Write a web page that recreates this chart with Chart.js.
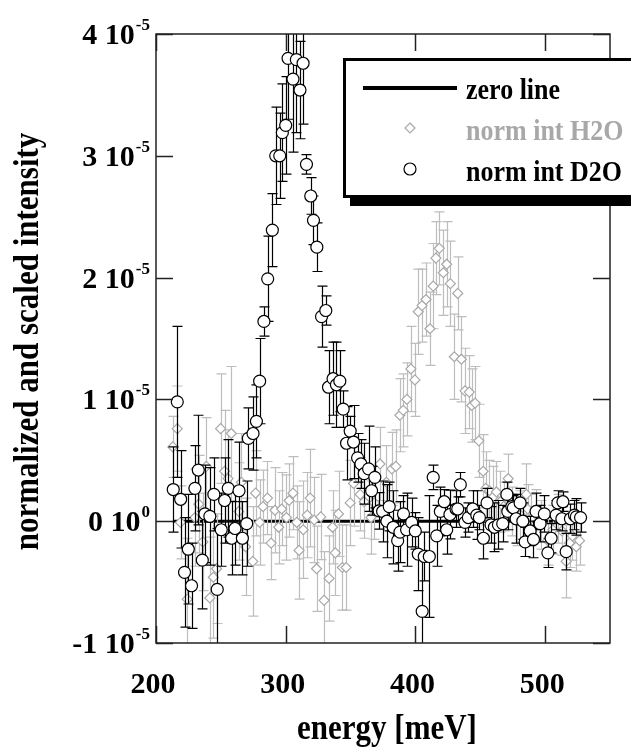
<!DOCTYPE html>
<html><head><meta charset="utf-8">
<script src="https://cdn.jsdelivr.net/npm/chart.js@4/dist/chart.umd.min.js"></script>
<style>html,body{margin:0;padding:0;background:#fff;}#wrap{width:631px;height:751px;}</style>
</head><body><div id="wrap"><canvas id="c" width="631" height="751"></canvas></div>
<script>
// values in units of 1e-5
const UNIT = 1e-5;
const d2oX = [213.3,216.4,219.0,222.0,224.9,227.4,230.0,232.6,235.7,237.7,241.5,244.6,247.2,250.3,252.9,255.7,258.3,260.9,264.0,266.6,269.9,271.2,274.8,277.4,279.9,283.2,286.1,289.7,292.3,295.4,297.4,300.0,301.8,305.6,308.2,311.0,313.4,316.0,319.3,321.4,324.0,327.6,330.9,333.0,336.5,339.1,341.7,344.3,346.9,349.7,352.3,355.4,358.0,360.5,363.9,366.2,368.7,372.0,374.7,378.0,379.8,382.9,386.3,388.1,390.8,393.2,397.1,399.9,402.2,405.2,406.8,410.7,413.7,416.4,419.2,422.2,424.1,426.6,431.3,432.6,434.6,438.2,440.8,444.2,447.3,449.3,452.4,455.2,458.3,460.9,464.0,467.3,470.5,471.2,474.3,475.5,477.6,480.7,482.8,484.6,488.4,491.0,493.0,496.1,499.4,502.1,504.6,508.5,509.8,512.9,513.7,516.2,519.5,522.6,524.0,527.3];
const d2oY = [0.26,0.98,0.18,-0.42,-0.23,-0.53,0.27,0.42,-0.32,0.06,0.04,0.22,-0.56,-0.07,0.17,0.27,-0.14,-0.06,0.25,-0.14,-0.02,0.68,0.72,0.82,1.15,1.64,1.99,2.39,3.00,3.00,3.19,3.25,3.80,3.63,3.79,3.54,3.76,2.93,2.67,2.47,2.25,1.68,1.73,1.10,1.17,1.12,1.15,0.92,0.64,0.74,0.65,0.52,0.47,0.39,0.43,0.25,0.36,0.085,0.08,0.00,0.12,-0.05,-0.16,-0.09,0.06,-0.07,-0.01,-0.08,-0.27,-0.74,-0.29,-0.29,0.36,-0.12,0.08,0.16,-0.07,0.055,0.10,0.10,0.30,-0.01,0.03,0.10,0.05,0.03,-0.14,0.15,-0.03,-0.05,-0.03,-0.02,0.22,0.08,0.12,0.11,0.02,0.15,0.00,-0.17,-0.08,-0.15,0.08,-0.02,0.06,-0.26,-0.14,0.05,0.15,0.02,0.16,-0.25,0.02,0.05,0.035,0.03];
const d2oErr = [0.35,0.62,0.40,0.45,0.45,0.35,0.35,0.45,0.40,0.40,0.40,0.30,0.50,0.30,0.35,0.40,0.30,0.30,0.40,0.30,0.35,0.25,0.30,0.30,0.35,0.12,0.35,0.30,0.40,0.35,0.40,0.40,0.50,0.60,0.60,0.40,0.50,0.08,0.15,0.20,0.20,0.25,0.12,0.30,0.30,0.35,0.25,0.15,0.30,0.12,0.30,0.20,0.20,0.25,0.35,0.20,0.25,0.15,0.25,0.30,0.20,0.30,0.25,0.25,0.15,0.30,0.20,0.15,0.30,0.50,0.20,0.50,0.10,0.25,0.20,0.10,0.20,0.20,0.15,0.10,0.10,0.12,0.12,0.15,0.20,0.10,0.17,0.12,0.15,0.20,0.20,0.15,0.10,0.15,0.10,0.10,0.20,0.12,0.15,0.12,0.12,0.15,0.15,0.15,0.15,0.12,0.12,0.12,0.10,0.10,0.08,0.15,0.12,0.12,0.15,0.12];

const h2oX = [213.0,216.4,218.9,224.1,230.0,233.0,236.1,238.8,241.5,244.2,246.7,249.8,252.9,255.5,258.1,263.8,265.8,269.1,274.6,276.8,279.9,282.5,285.9,288.7,291.7,294.6,296.9,300.6,302.6,305.6,308.5,310.3,313.5,316.5,318.8,321.9,323.8,327.0,329.6,333.4,336.1,338.2,340.7,343.7,346.6,349.7,352.3,357.4,360.5,365.7,368.3,372.7,377.6,381.8,384.9,388.0,390.6,393.4,396.5,399.6,402.2,405.1,408.1,411.2,413.7,415.8,418.4,421.5,424.1,426.9,430.0,432.6,435.4,438.2,441.5,443.4,446.0,448.9,452.2,454.2,457.0,460.0,462.4,465.5,468.0,471.5,474.5,478.0,481.0,485.5,486.6,489.0,493.0,497.0,502.1,506.0,510.0,513.0,516.2,518.8,521.0,524.0,526.5];
const h2oY = [0.61,0.76,-0.01,-0.64,0.03,0.14,-0.17,0.45,-0.63,-0.46,-0.39,0.76,0.41,0.35,0.72,0.08,0.32,-0.21,-0.33,0.23,-0.01,0.12,0.19,-0.18,0.09,-0.05,0.10,0.03,0.17,0.23,-0.01,-0.24,-0.07,0.05,0.19,0.01,-0.39,0.035,-0.65,-0.47,-0.05,-0.26,0.06,-0.38,-0.38,0.15,0.31,0.22,0.16,0.03,0.15,0.47,0.32,0.43,0.45,0.87,0.91,1.00,1.25,1.16,1.72,1.77,1.82,1.58,1.93,2.16,2.24,2.04,2.11,1.95,1.35,1.87,1.33,1.07,1.06,0.95,0.97,0.66,0.41,0.27,0.25,0.20,0.24,0.16,0.12,0.35,0.08,0.00,0.05,0.22,0.10,0.02,0.06,-0.03,-0.16,-0.07,0.02,-0.08,-0.33,-0.18,-0.12,-0.21,-0.16];
const h2oErr = [0.25,0.35,0.30,0.50,0.40,0.40,0.40,0.40,0.50,0.50,0.45,0.45,0.50,0.40,0.55,0.40,0.40,0.40,0.45,0.35,0.35,0.30,0.30,0.30,0.35,0.30,0.30,0.35,0.30,0.30,0.30,0.40,0.40,0.35,0.40,0.35,0.35,0.35,0.40,0.35,0.30,0.35,0.35,0.35,0.35,0.35,0.35,0.30,0.30,0.30,0.30,0.30,0.30,0.30,0.30,0.30,0.30,0.30,0.35,0.30,0.35,0.30,0.30,0.30,0.35,0.30,0.30,0.35,0.35,0.35,0.35,0.30,0.35,0.35,0.30,0.30,0.30,0.30,0.30,0.30,0.25,0.25,0.25,0.25,0.20,0.20,0.20,0.20,0.20,0.25,0.20,0.20,0.20,0.20,0.20,0.20,0.20,0.20,0.30,0.20,0.20,0.20,0.20];

const zeroX = [213, 528];
const xTicks = [200, 300, 400, 500];
const xTickLabels = ['200', '300', '400', '500'];
const yTicks = [-1, 0, 1, 2, 3, 4];
const yTickMain = ['-1 10', '0 10', '1 10', '2 10', '3 10', '4 10'];
const yTickExp = ['-5', '0', '-5', '-5', '-5', '-5'];
const seriesNames = ['zero line', 'norm int H2O', 'norm int D2O'];
const xTitle = 'energy [meV]';
const yTitle = 'normalized and scaled intensity';

const FONT = "'Liberation Serif','Times New Roman',serif";
const GRAY = '#a8a8a8';
const GRAY_BAR = '#bdbdbd';
const TEXT_STRETCH = 1.15;

const pts = (xs, ys) => xs.map((x, i) => ({x: x, y: ys[i] * UNIT}));

function stretchedText(ctx, txt, x, y, s) {
  ctx.save();
  ctx.translate(x, y);
  ctx.scale(1, s);
  ctx.fillText(txt, 0, 0);
  ctx.restore();
}

const deco = {
  id: 'deco',
  beforeDatasetDraw(chart, args) {
    const ds = chart.data.datasets[args.index];
    if (!ds.errs) return;
    const {ctx, chartArea: a, scales: {x, y}} = chart;
    ctx.save();
    ctx.beginPath(); ctx.rect(a.left, a.top, a.right - a.left, a.bottom - a.top); ctx.clip();
    ctx.strokeStyle = ds.errColor; ctx.lineWidth = 1.2;
    ds.data.forEach((p, i) => {
      const e = ds.errs[i] * UNIT;
      const px = Math.round(x.getPixelForValue(p.x)) + 0.5;
      const y1 = y.getPixelForValue(p.y + e), y2 = y.getPixelForValue(p.y - e);
      ctx.beginPath();
      ctx.moveTo(px, y1); ctx.lineTo(px, y2);
      ctx.moveTo(px - 5, y1); ctx.lineTo(px + 5, y1);
      ctx.moveTo(px - 5, y2); ctx.lineTo(px + 5, y2);
      ctx.stroke();
    });
    ctx.restore();
  },
  afterDraw(chart) {
    const {ctx, chartArea: a, scales: {x, y}} = chart;
    ctx.save();
    ctx.strokeStyle = '#222'; ctx.lineWidth = 1.5;
    ctx.strokeRect(a.left, a.top, a.right - a.left, a.bottom - a.top);
    const TL = 17;
    ctx.beginPath();
    xTicks.forEach(v => {
      const px = Math.round(x.getPixelForValue(v)) + 0.5;
      ctx.moveTo(px, a.bottom); ctx.lineTo(px, a.bottom - TL);
      ctx.moveTo(px, a.top); ctx.lineTo(px, a.top + TL);
    });
    yTicks.forEach(v => {
      const py = Math.round(y.getPixelForValue(v * UNIT)) + 0.5;
      ctx.moveTo(a.left, py); ctx.lineTo(a.left + TL, py);
      ctx.moveTo(a.right, py); ctx.lineTo(a.right - TL, py);
    });
    ctx.stroke();
    ctx.fillStyle = '#000';
    ctx.font = 'bold 30px ' + FONT;
    ctx.textAlign = 'center'; ctx.textBaseline = 'alphabetic';
    xTicks.forEach((v, i) => {
      ctx.fillText(xTickLabels[i], x.getPixelForValue(v) - 3, a.bottom + 50);
    });
    yTicks.forEach((v, i) => {
      const py = y.getPixelForValue(v * UNIT);
      const right = a.left - 6;
      ctx.font = 'bold 17px ' + FONT;
      const ew = ctx.measureText(yTickExp[i]).width;
      ctx.textAlign = 'right';
      ctx.fillText(yTickExp[i], right, py - 4);
      ctx.font = 'bold 30px ' + FONT;
      ctx.fillText(yTickMain[i], right - ew - 1, py + 10);
    });
    ctx.font = 'bold 31px ' + FONT;
    ctx.textAlign = 'center';
    stretchedText(ctx, xTitle, (a.left + a.right) / 2 + 4, 739, TEXT_STRETCH);
    ctx.save();
    ctx.translate(38, (a.top + a.bottom) / 2 + 3);
    ctx.rotate(-Math.PI / 2);
    ctx.scale(1, TEXT_STRETCH);
    ctx.fillText(yTitle, 0, 0);
    ctx.restore();
    const bx = 343, by = 58, bw = 320, bh = 140;
    ctx.fillStyle = '#000';
    ctx.fillRect(bx + 7, by + 8, bw, bh);
    ctx.fillStyle = '#fff';
    ctx.fillRect(bx, by, bw, bh);
    ctx.strokeStyle = '#000'; ctx.lineWidth = 3;
    ctx.strokeRect(bx + 1.5, by + 1.5, bw - 3, bh - 3);
    ctx.lineWidth = 4; ctx.strokeStyle = '#000';
    ctx.beginPath(); ctx.moveTo(363, 88); ctx.lineTo(457, 88); ctx.stroke();
    ctx.lineWidth = 1.2; ctx.strokeStyle = GRAY; ctx.fillStyle = '#fff';
    ctx.beginPath(); ctx.moveTo(410, 123); ctx.lineTo(415, 128); ctx.lineTo(410, 133); ctx.lineTo(405, 128); ctx.closePath();
    ctx.fill(); ctx.stroke();
    ctx.strokeStyle = '#000';
    ctx.beginPath(); ctx.arc(410, 169, 6, 0, Math.PI * 2); ctx.fill(); ctx.stroke();
    ctx.font = 'bold 26px ' + FONT; ctx.textAlign = 'left';
    ctx.fillStyle = '#000'; stretchedText(ctx, seriesNames[0], 466, 99, TEXT_STRETCH);
    ctx.fillStyle = GRAY; stretchedText(ctx, seriesNames[1], 466, 140, TEXT_STRETCH);
    ctx.fillStyle = '#000'; stretchedText(ctx, seriesNames[2], 466, 181, TEXT_STRETCH);
    ctx.restore();
  }
};

new Chart(document.getElementById('c'), {
  type: 'scatter',
  data: {
    datasets: [
      {label: seriesNames[2], data: pts(d2oX, d2oY), errs: d2oErr, errColor: '#000', order: 0,
       pointStyle: 'circle', pointRadius: 6, pointBorderWidth: 1.2, borderColor: '#000', backgroundColor: '#fff', showLine: false},
      {label: seriesNames[1], data: pts(h2oX, h2oY), errs: h2oErr, errColor: GRAY_BAR, order: 1,
       pointStyle: 'rectRot', pointRadius: 5, pointBorderWidth: 1.2, borderColor: GRAY, backgroundColor: '#fff', showLine: false},
      {label: seriesNames[0], type: 'line', data: zeroX.map(v => ({x: v, y: 0})), order: 2,
       borderColor: '#000', borderWidth: 3, pointRadius: 0, fill: false}
    ]
  },
  options: {
    responsive: false, animation: false, devicePixelRatio: 1,
    layout: {padding: {left: 156, top: 34, right: 21, bottom: 108}},
    scales: {
      x: {type: 'linear', min: 200, max: 550, display: false},
      y: {type: 'linear', min: -1 * UNIT, max: 4 * UNIT, display: false}
    },
    plugins: {legend: {display: false}, tooltip: {enabled: false}},
    events: []
  },
  plugins: [deco]
});
</script></body></html>
